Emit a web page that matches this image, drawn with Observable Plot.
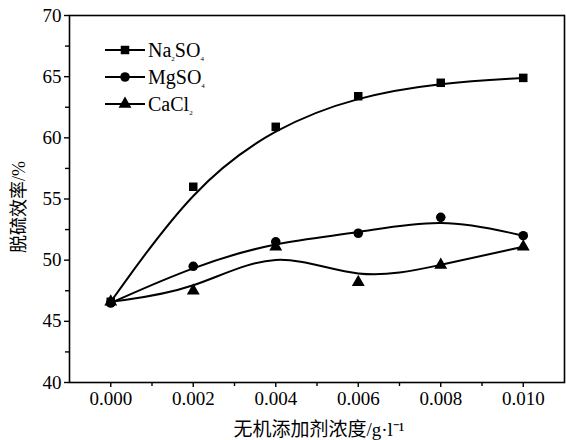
<!DOCTYPE html>
<html>
<head>
<meta charset="utf-8">
<script src="https://cdn.jsdelivr.net/npm/d3@7"></script>
<script src="https://cdn.jsdelivr.net/npm/@observablehq/plot@0.6"></script>
<style>
  html, body { margin: 0; padding: 0; background: #fff; }
  #chart { width: 566px; height: 440px; }
</style>
</head>
<body>
<div id="chart"></div>
<script>
// Additive concentration (g·l⁻¹) on the x axis
const concentrations = [0.000, 0.002, 0.004, 0.006, 0.008, 0.010];

// Desulfurization efficiency (%) per inorganic additive
const na2so4 = [46.6, 56.0, 60.9, 63.4, 64.5, 64.9];
const mgso4  = [46.5, 49.5, 51.5, 52.2, 53.5, 52.0];
const cacl2  = [46.6, 47.5, 51.1, 48.2, 49.6, 51.1];

const seriesNames = ["Na2SO4", "MgSO4", "CaCl2"];
const seriesValues = [na2so4, mgso4, cacl2];
const seriesSymbols = ["square", "circle", "triangle"];

const xTicks = [0.000, 0.002, 0.004, 0.006, 0.008, 0.010];
const xMinorTicks = [0.001, 0.003, 0.005, 0.007, 0.009];
const yTicks = [40, 45, 50, 55, 60, 65, 70];
const yMinorTicks = [42.5, 47.5, 52.5, 57.5, 62.5, 67.5];

const xLabel = "无机添加剂浓度/g·l⁻¹";
const yLabel = "脱硫效率/%";

const rows = seriesNames.flatMap((name, i) =>
  concentrations.map((c, j) => ({series: name, symbol: seriesSymbols[i], x: c, y: seriesValues[i][j]}))
);

const serif = "'Liberation Serif', 'Noto Sans CJK SC', serif";

const chart = Plot.plot({
  width: 566,
  height: 440,
  marginLeft: 69,
  marginRight: 2,
  marginTop: 15,
  marginBottom: 58,
  style: {fontFamily: serif, fontSize: "19px", color: "#000", background: "#fff"},
  x: {domain: [-0.001, 0.011]},
  y: {domain: [40, 70]},
  symbol: {domain: seriesSymbols, range: seriesSymbols},
  marks: [
    Plot.frame({stroke: "#000", strokeWidth: 1.6}),
    Plot.axisX({ticks: xTicks, tickFormat: d3.format(".3f"), tickSize: 5, tickPadding: 4, label: null, strokeWidth: 1.4, fontSize: 19}),
    Plot.axisX({ticks: xMinorTicks, text: null, tickSize: 4, label: null, strokeWidth: 1.4}),
    Plot.axisY({ticks: yTicks, tickFormat: d3.format("d"), tickSize: 5, tickPadding: 3, label: null, strokeWidth: 1.4, fontSize: 19}),
    Plot.axisY({ticks: yMinorTicks, text: null, tickSize: 4, label: null, strokeWidth: 1.4}),
    Plot.line(rows, {x: "x", y: "y", z: "series", curve: "basis", stroke: "#000", strokeWidth: 2}),
    Plot.dot(rows, {x: "x", y: "y", symbol: "symbol", r: 4.8, fill: "#000", stroke: "none"}),
    Plot.text([xLabel], {frameAnchor: "bottom", textAnchor: "middle", dx: 2, dy: 53, fontSize: 19, fill: "#000"}),
    Plot.text([yLabel], {frameAnchor: "left", textAnchor: "middle", lineAnchor: "middle", dx: -50, dy: 8, rotate: -90, fontSize: 18, fill: "#000"})
  ]
});

document.getElementById("chart").appendChild(chart);

// Legend in the upper-left corner of the plot area
const svg = d3.select(chart);
const legendLabels = [
  [["Na", 0], ["2", 1], ["SO", 0], ["4", 1]],
  [["MgSO", 0], ["4", 1]],
  [["CaCl", 0], ["2", 1]]
];
const legend = svg.append("g").attr("transform", "translate(105,50)");
seriesSymbols.forEach((sym, i) => {
  const row = legend.append("g").attr("transform", `translate(0,${i * 27})`);
  row.append("line").attr("x1", 0).attr("x2", 40).attr("y1", 0).attr("y2", 0)
    .attr("stroke", "#000").attr("stroke-width", 2);
  const shape = sym === "square" ? d3.symbolSquare : sym === "circle" ? d3.symbolCircle : d3.symbolTriangle;
  row.append("path").attr("d", d3.symbol(shape, 4.8 * 4.8 * Math.PI)())
    .attr("transform", "translate(20,0)").attr("fill", "#000");
  const t = row.append("text").attr("x", 43).attr("y", 0).attr("dy", "0.35em")
    .attr("text-anchor", "start")
    .attr("font-family", serif).attr("font-size", 20).attr("fill", "#000");
  legendLabels[i].forEach(([s, sub], k) => {
    const span = t.append("tspan").text(s);
    if (sub) span.attr("font-size", 7).attr("dy", "0.5em");
    else if (k > 0) span.attr("dy", "-0.17em");
  });
});
</script>
</body>
</html>
